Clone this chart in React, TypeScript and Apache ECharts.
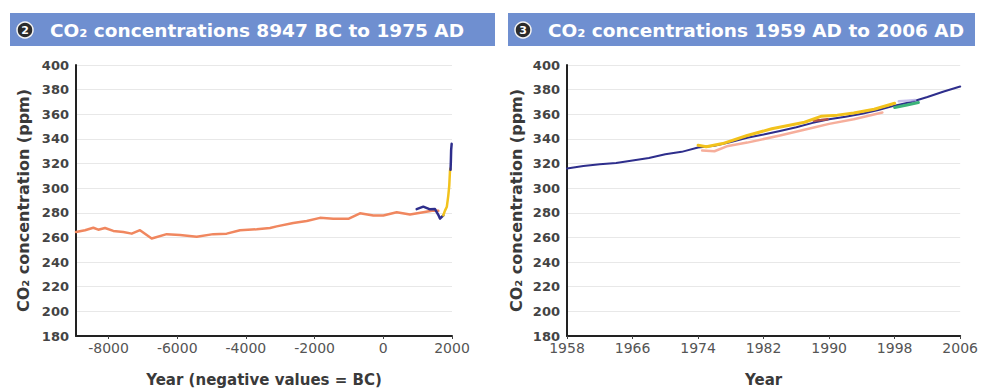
import React, { useEffect, useRef } from "react";
import * as echarts from "echarts";

// ---- Left chart: 8947 BC to 1975 AD ----
const leftXTicks = [-8000, -6000, -4000, -2000, 0, 2000];
const iceCoreYears = [-8947, -8685, -8443, -8298, -8103, -7861, -7570, -7325, -7084, -6743, -6306, -5919, -5433, -4950, -4560, -4172, -3686, -3299, -3104, -2621, -2230, -1843, -1456, -1019, -679, -291, 0, 390, 777, 1164, 1455, 1600];
const iceCorePpm = [264.5, 265.9, 267.9, 266.3, 267.7, 265.3, 264.5, 263.1, 265.9, 259.2, 262.7, 261.9, 260.5, 262.7, 263.1, 265.9, 266.6, 267.7, 269, 271.7, 273.3, 275.9, 275.1, 275.1, 279.6, 277.8, 277.8, 280.4, 278.6, 280.4, 281.8, 281.6];
const lawDomeYears = [972, 1164, 1360, 1505, 1601, 1650, 1747];
const lawDomePpm = [283, 285, 282.8, 283, 278.4, 275.3, 278];
const sipleYears = [1747, 1796, 1850, 1892, 1920, 1941, 1953];
const siplePpm = [278, 281.8, 285, 294, 302, 314, 316];
const maunaEarlyYears = [1958, 1966, 1975, 1990];
const maunaEarlyPpm = [315, 321, 331, 336];

// ---- Right chart: 1959 AD to 2006 AD ----
const rightXTicks = [1958, 1966, 1974, 1982, 1990, 1998, 2006];
const maunaYears = [1958, 1960, 1962, 1964, 1966, 1968, 1970, 1972, 1974, 1976, 1978, 1980, 1982, 1984, 1986, 1988, 1990, 1992, 1994, 1996, 1998, 2000, 2002, 2004, 2006];
const maunaPpm = [316, 318, 319.5, 320.5, 322.5, 324.5, 327.5, 329.5, 333, 334.5, 337.5, 341, 343.5, 346.5, 349.5, 353, 356, 358, 360.5, 363.5, 367, 370, 374, 378.5, 382.5];
const yellowYears = [1974, 1975, 1977, 1980, 1983, 1987, 1989, 1991, 1993, 1995.5, 1998];
const yellowPpm = [334.9, 333.6, 336.2, 342.8, 348.2, 353.5, 358.3, 359.3, 361, 364.1, 368.9];
const salmonYears = [1974.5, 1976, 1977.5, 1980, 1984, 1988, 1990, 1993, 1996.5];
const salmonPpm = [330.5, 330, 334, 337, 342.8, 349, 352.2, 356, 361.5];
const darkRedYears = [1988.1, 1989, 1989.8];
const darkRedPpm = [354.8, 355.3, 356];
const greenYears = [1998, 1999.5, 2000.9];
const greenPpm = [365.5, 367.5, 369.5];
const lavenderYears = [1998.5, 1999.5, 2000.5];
const lavenderPpm = [370.5, 371, 371.5];

const yTicksMin = 180;
const yTicksMax = 400;
const yInterval = 20;

const zip = (xs: number[], ys: number[]) => xs.map((x, i) => [x, ys[i]]);

const FONT = "DejaVu Sans";
const TEXT = "#3a3a3a";

function App() {
  const ref = useRef<HTMLDivElement>(null);
  useEffect(() => {
    if (!ref.current) return;
    const chart = echarts.init(ref.current, null, { renderer: "svg" });

    const xAxisBase = (gridIndex: number, min: number, max: number, ticks: number[], name: string) => ({
      type: "value",
      gridIndex,
      min,
      max,
      axisLine: { show: true, onZero: false, lineStyle: { color: "#222", width: 2 } },
      axisTick: { show: true, length: 3, customValues: ticks, lineStyle: { color: "#444" } },
      axisLabel: {
        customValues: ticks,
        margin: 5,
        fontFamily: FONT,
        fontSize: 14,
        color: "#555",
        formatter: (v: number) => String(v),
      },
      splitLine: { show: false },
      name,
      nameLocation: "middle",
      nameGap: 36,
      nameTextStyle: { fontFamily: FONT, fontSize: 15, fontWeight: "bold", color: TEXT },
    });
    const yAxisBase = (gridIndex: number, gap: number) => ({
      type: "value",
      gridIndex,
      min: yTicksMin,
      max: yTicksMax,
      interval: yInterval,
      axisLine: { show: true, onZero: false, lineStyle: { color: "#222", width: 2 } },
      axisTick: { show: false },
      axisLabel: { margin: 7, fontFamily: FONT, fontSize: 13, fontWeight: "bold", color: "#444" },
      splitLine: { show: true, lineStyle: { color: "#e8e8e8", width: 1 } },
      name: "CO₂ concentration (ppm)",
      nameLocation: "middle",
      nameGap: gap,
      nameTextStyle: { fontFamily: FONT, fontSize: 16, fontWeight: "bold", color: TEXT },
    });

    const line = (xi: number, data: number[][], color: string, width: number, opacity = 1) => ({
      type: "line",
      xAxisIndex: xi,
      yAxisIndex: xi,
      data,
      showSymbol: false,
      symbol: "none",
      smooth: false,
      lineStyle: { color, width, opacity, cap: "round", join: "round" },
      z: 3,
    });

    const titleBar = (x: number, w: number, num: string, text: string) => [
      { type: "rect", shape: { x, y: 13, width: w, height: 33 }, style: { fill: "#6f8fd0" }, z: 1 },
      {
        type: "circle",
        shape: { cx: x + 15, cy: 30, r: 8 },
        style: { fill: "#2b2b2b", stroke: "#f4f4f4", lineWidth: 1.5 },
        z: 2,
      },
      {
        type: "text",
        x: x + 15,
        y: 30,
        style: { text: num, fill: "#fff", fontFamily: FONT, fontWeight: "bold", fontSize: 11, align: "center", verticalAlign: "middle" },
        z: 3,
      },
      {
        type: "text",
        x: x + 40,
        y: 30,
        style: { text, fill: "#fff", fontFamily: FONT, fontWeight: "bold", fontSize: 18.5, align: "left", verticalAlign: "middle" },
        z: 3,
      },
    ];

    chart.setOption({
      animation: false,
      backgroundColor: "#fff",
      grid: [
        { left: 76, top: 65, width: 376, height: 276 },
        { left: 567, top: 65, width: 396, height: 276 },
      ],
      xAxis: [
        xAxisBase(0, -8947, 2000, leftXTicks, "Year (negative values = BC)"),
        xAxisBase(1, 1958, 2006, rightXTicks, "Year"),
      ],
      yAxis: [yAxisBase(0, 45), yAxisBase(1, 43)],
      series: [
        line(0, zip(iceCoreYears, iceCorePpm), "#f0875f", 2.5),
        line(0, zip(lawDomeYears, lawDomePpm), "#2e2e8c", 2.5),
        line(0, zip(sipleYears, siplePpm), "#f2c21c", 2.5),
        line(0, zip(maunaEarlyYears, maunaEarlyPpm), "#2e2e8c", 2.5),
        line(1, zip(maunaYears, maunaPpm), "#2e2e8c", 2),
        line(1, zip(salmonYears, salmonPpm), "#f4a08a", 2.5, 0.85),
        line(1, zip(darkRedYears, darkRedPpm), "#b0504a", 2.5),
        line(1, zip(yellowYears, yellowPpm), "#f2c21c", 3),
        line(1, zip(greenYears, greenPpm), "#3cb37a", 3),
        line(1, zip(lavenderYears, lavenderPpm), "#b9b0e6", 2.5, 0.8),
      ],
      graphic: [
        ...titleBar(10, 485, "2", "CO₂ concentrations 8947 BC to 1975 AD"),
        ...titleBar(508, 467, "3", "CO₂ concentrations 1959 AD to 2006 AD"),
      ],
    });
    return () => chart.dispose();
  }, []);
  return <div ref={ref} style={{ position: "fixed", left: 0, top: 0, width: 981, height: 392 }} />;
}

export default App;
